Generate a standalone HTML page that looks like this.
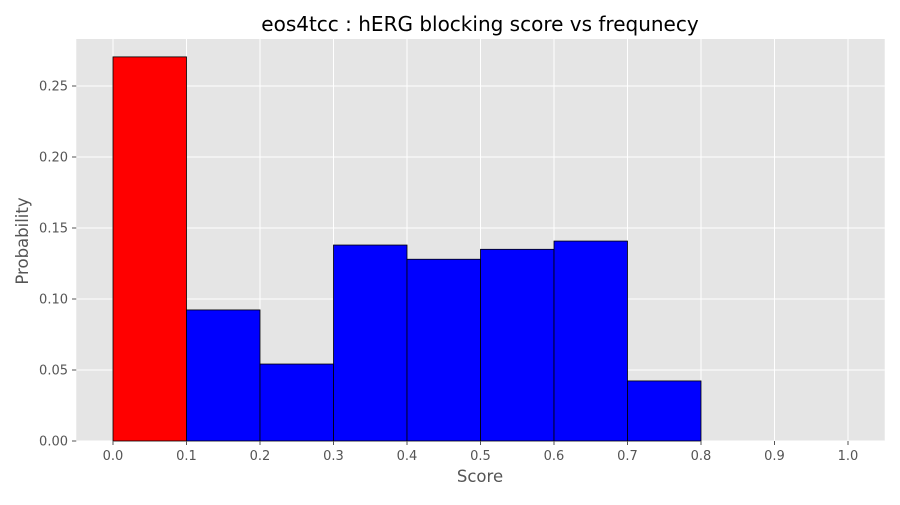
<!DOCTYPE html>
<html><head><meta charset="utf-8"><style>
body{margin:0;background:#fff;}
svg text{font-family:"DejaVu Sans","Liberation Sans",sans-serif;}
</style></head><body>
<svg id="chart" width="900" height="500" xmlns="http://www.w3.org/2000/svg">
<rect x="0" y="0" width="900" height="500" fill="#fff"/>
<rect x="76.25" y="39" width="808.5" height="402" fill="#e5e5e5"/>
<g id="grid"></g>
<g id="bars"></g>
<g id="ticks"></g>
<text x="480" y="31" text-anchor="middle" font-size="20" fill="#000">eos4tcc : hERG blocking score vs frequnecy</text>
<text x="480" y="482" text-anchor="middle" font-size="16.5" fill="#555">Score</text>
<text x="28" y="241" text-anchor="middle" font-size="16.5" fill="#555" transform="rotate(-90 28 241)">Probability</text>
</svg>
<script>
const binStarts=[0.0,0.1,0.2,0.3,0.4,0.5,0.6,0.7];
const probabilities=[0.2705,0.0923,0.0542,0.138,0.128,0.135,0.1408,0.0423];
const barColors=["red","blue","blue","blue","blue","blue","blue","blue"];
const xTicks=[0.0,0.1,0.2,0.3,0.4,0.5,0.6,0.7,0.8,0.9,1.0];
const yTicks=[0.00,0.05,0.10,0.15,0.20,0.25];
const binWidth=0.1;
const NS="http://www.w3.org/2000/svg";
const xs=v=>113+v*735;
const ys=v=>441-v*1420;
function mk(tag,attrs,parent){const e=document.createElementNS(NS,tag);for(const k in attrs)e.setAttribute(k,attrs[k]);document.getElementById(parent).appendChild(e);return e;}
xTicks.forEach(t=>{
 const g=mk("line",{x1:xs(t),x2:xs(t),y1:39,y2:441,stroke:"#fff","stroke-width":1},"grid");
 
 
 const tk=mk("line",{x1:xs(t),x2:xs(t),y1:441,y2:445,stroke:"#555"},"ticks");
 
 
 const l=mk("text",{x:xs(t),y:460,"text-anchor":"middle","font-size":13,fill:"#555"},"ticks");
 l.textContent=t.toFixed(1);
 
 
});
yTicks.forEach(t=>{
 const g=mk("line",{x1:76.25,x2:884.75,y1:ys(t),y2:ys(t),stroke:"#fff","stroke-width":1},"grid");
 
 
 const tk=mk("line",{x1:72,x2:76.25,y1:ys(t),y2:ys(t),stroke:"#555"},"ticks");
 
 
 const l=mk("text",{x:68,y:ys(t)+4.5,"text-anchor":"end","font-size":13,fill:"#555"},"ticks");
 l.textContent=t.toFixed(2);
 
 
});
binStarts.forEach((b,i)=>{
 const r=mk("rect",{x:xs(b),y:ys(probabilities[i]),width:xs(b+binWidth)-xs(b),height:ys(0)-ys(probabilities[i]),fill:barColors[i],stroke:"#000","stroke-width":0.8},"bars");
 
 
});
</script>
</body></html>
